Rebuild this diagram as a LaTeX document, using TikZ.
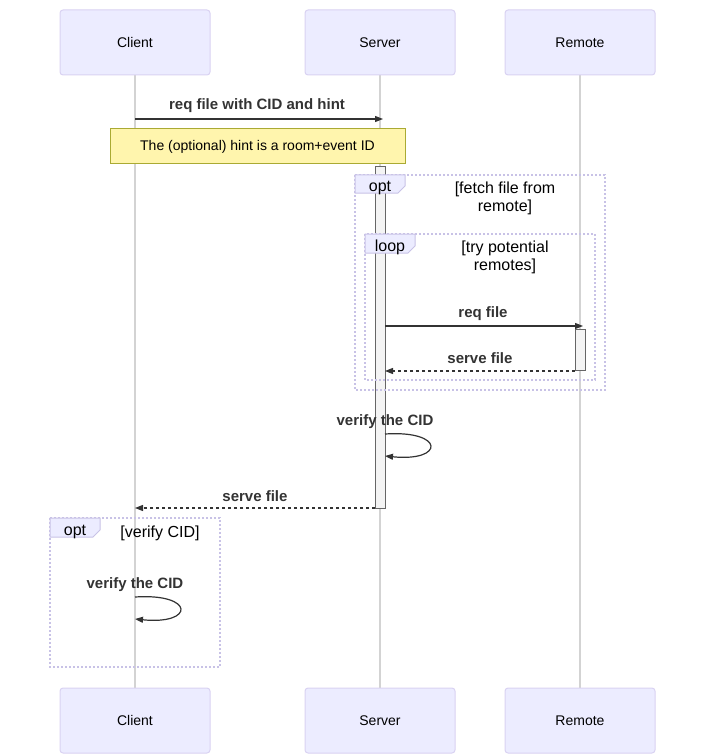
\documentclass[tikz,border=0pt]{standalone}
\usepackage{fontspec}
\setmainfont{Liberation Sans}
\usetikzlibrary{arrows.meta,backgrounds}
\definecolor{actorfill}{HTML}{ECECFF}
\definecolor{actorline}{HTML}{D9D2F2}
\definecolor{lifeline}{HTML}{D3D3D3}
\definecolor{txt}{HTML}{333333}
\definecolor{notefill}{HTML}{FFF5AD}
\definecolor{noteline}{HTML}{AAAA33}
\definecolor{actfill}{HTML}{F4F4F4}
\definecolor{actline}{HTML}{666666}
\definecolor{framecol}{HTML}{C8C2E6}
\tikzset{
  actorbox/.style={draw=actorline, fill=actorfill, rounded corners=3pt, line width=1pt,
    minimum width=150pt, minimum height=65pt, inner sep=0pt, font=\fontsize{14}{16}\selectfont, text=black},
  lifeln/.style={draw=lifeline, line width=1.5pt},
  msglabel/.style={font=\bfseries\fontsize{15}{17}\selectfont, text=txt, inner sep=0pt},
  msg/.style={draw=txt, line width=1.2pt, -{Triangle[length=8pt,width=6pt]}},
  reply/.style={msg, dash pattern=on 3pt off 3pt},
  notebox/.style={draw=noteline, fill=notefill, line width=1pt, minimum width=295pt, minimum height=35pt,
    inner sep=0pt, font=\fontsize{14}{16}\selectfont},
  activation/.style={draw=actline, fill=actfill, line width=1pt},
  framebox/.style={draw=framecol, line width=1.2pt, dash pattern=on 2pt off 2pt},
  tagfill/.style={fill=actorfill, draw=framecol, line width=1pt},
  tagtext/.style={font=\fontsize{16}{18}\selectfont, inner sep=0pt},
  condtext/.style={font=\fontsize{16}{18}\selectfont, inner sep=0pt, align=center},
}
\begin{document}
\begin{tikzpicture}[x=1pt,y=-1pt]
\useasboundingbox (0,0) rectangle (705,754);
% actors
\node[actorbox] (clientT) at (135,42.5) {Client};
\node[actorbox] (serverT) at (380,42.5) {Server};
\node[actorbox] (remoteT) at (580,42.5) {Remote};
\node[actorbox] (clientB) at (135,720.5) {Client};
\node[actorbox] (serverB) at (380,720.5) {Server};
\node[actorbox] (remoteB) at (580,720.5) {Remote};
% lifelines
\begin{scope}[on background layer]
\draw[lifeln] (clientT.south) -- (clientB.north);
\draw[lifeln] (serverT.south) -- (serverB.north);
\draw[lifeln] (remoteT.south) -- (remoteB.north);
\end{scope}

% message 1
\coordinate (m1a) at (135,119);
\coordinate (m1b) at (383,119);
\node[msglabel] (m1l) at (257,106) {req file with CID and hint};
\draw[msg] (m1a) -- (m1b);
% note
\node[notebox] (note) at (257.5,146.5) {The (optional) hint is a room+event ID};

% server activation
\draw[activation] (375,167) rectangle (385,508);

% opt frame 1
\draw[framebox] (355,175) rectangle (605,390);
\draw[tagfill] (355,175) -- (405,175) -- (405,186) -- (398,193) -- (355,193) -- cycle;
\node[tagtext] (opt1) at (380,188) {opt};
\node[condtext] (opt1c) at (505,198) {[fetch file from\\remote]};

% loop frame
\draw[framebox] (365,234) rectangle (595,380);
\draw[tagfill] (365,234) -- (415,234) -- (415,246) -- (408,253) -- (365,253) -- cycle;
\node[tagtext] (loopt) at (390,247) {loop};
\node[condtext] (loopc) at (505,257) {[try potential\\remotes]};

% remote activation
\draw[activation] (575,329) rectangle (585,370);

% req file
\coordinate (m2a) at (385,326);
\coordinate (m2b) at (583,326);
\node[msglabel] (m2l) at (483,314) {req file};
\draw[msg] (m2a) -- (m2b);
% serve file (remote -> server)
\coordinate (m3a) at (575,371);
\coordinate (m3b) at (385,371);
\node[msglabel] (m3l) at (480,358) {serve file};
\draw[reply] (m3a) -- (m3b);

% verify the CID (server)
\coordinate (v1a) at (385,434);
\coordinate (v1b) at (385,456);
\node[msglabel] (v1l) at (385,422) {verify the CID};
\draw[msg] (v1a) .. controls (445,430) and (445,462) .. (v1b);

% serve file (server -> client)
\coordinate (m4a) at (375,508);
\coordinate (m4b) at (135,508);
\node[msglabel] (m4l) at (255,496) {serve file};
\draw[reply] (m4a) -- (m4b);

% opt frame 2
\draw[framebox] (50,518) rectangle (220,667);
\draw[tagfill] (50,518) -- (100,518) -- (100,530) -- (93,537) -- (50,537) -- cycle;
\node[tagtext] (opt2) at (75,531.5) {opt};
\node[condtext] (opt2c) at (160,533) {[verify CID]};

% verify the CID (client)
\coordinate (v2a) at (135,597);
\coordinate (v2b) at (135,619);
\node[msglabel] (v2l) at (135,585) {verify the CID};
\draw[msg] (v2a) .. controls (195,593) and (195,625) .. (v2b);
\end{tikzpicture}
\end{document}
